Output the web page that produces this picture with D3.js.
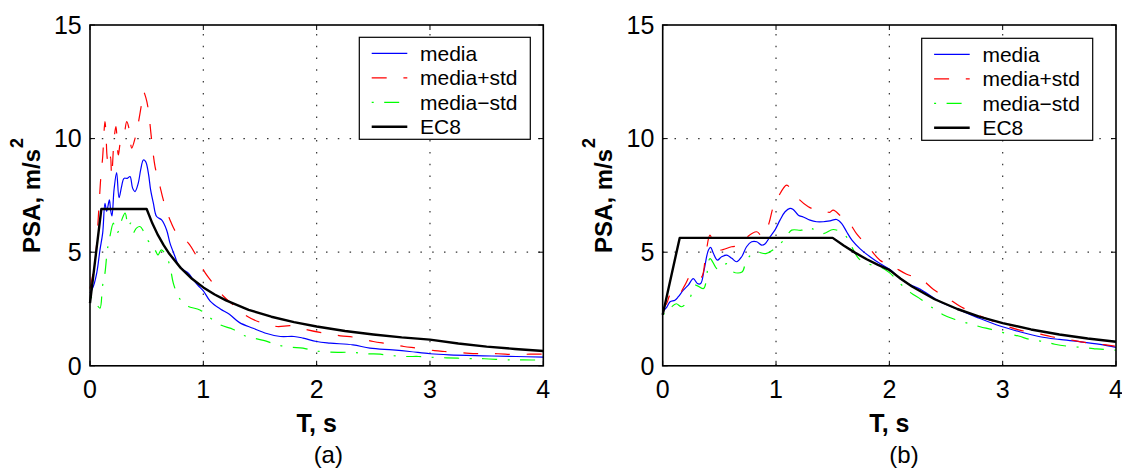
<!DOCTYPE html>
<html><head><meta charset="utf-8">
<script src="https://cdn.jsdelivr.net/npm/d3@7"></script>
<style>html,body{margin:0;padding:0;background:#fff;}svg{display:block;font-family:"Liberation Sans",Arial,Helvetica,sans-serif;}</style>
</head><body>
<svg id="c" width="1122" height="469"></svg>
<script>
// ---- data ----
const xTicks = [0, 1, 2, 3, 4];
const yTicks = [0, 5, 10, 15];
const xLabel = "T, s";
const yLabel = "PSA, m/s";
const yLabelSup = "2";
const panelTags = ["(a)", "(b)"];
const seriesNames = ["media", "media+std", "media\u2212std", "EC8"];

const aMedia = [[0,3.2],[0.03,3.5],[0.06,4.1],[0.088,5.1],[0.112,5.85],[0.132,7.15],[0.147,6.8],[0.171,7.3],[0.182,6.85],[0.194,6.6],[0.212,7.75],[0.235,8.5],[0.256,7.4],[0.279,7.9],[0.3,8.25],[0.329,8.25],[0.353,8.33],[0.376,7.82],[0.397,7.67],[0.426,8.04],[0.447,8.62],[0.471,9.06],[0.491,8.99],[0.515,8.48],[0.535,7.74],[0.559,7.16],[0.588,6.57],[0.632,6.42],[0.676,5.98],[0.706,5.4],[0.75,4.81],[0.779,4.44],[0.824,4.22],[0.868,4.08],[0.912,3.78],[0.96,3.5],[1.0,3.3],[1.06,2.85],[1.15,2.5],[1.23,2.27],[1.32,1.9],[1.44,1.65],[1.56,1.42],[1.68,1.29],[1.8,1.29],[1.88,1.22],[2.0,1.07],[2.12,1.0],[2.32,0.92],[2.47,0.78],[2.67,0.7],[2.82,0.63],[3.0,0.53],[3.17,0.48],[3.47,0.44],[3.76,0.41],[4.0,0.38]];
const aPlus = [[0,3.4],[0.044,4.6],[0.079,7.0],[0.094,8.2],[0.112,9.2],[0.132,10.75],[0.141,10.25],[0.153,9.1],[0.171,8.77],[0.182,9.2],[0.191,8.33],[0.212,9.94],[0.229,10.53],[0.25,9.28],[0.271,9.87],[0.294,10.0],[0.324,10.75],[0.347,10.38],[0.368,9.58],[0.397,10.0],[0.426,10.68],[0.456,11.56],[0.471,12.07],[0.494,11.78],[0.515,11.26],[0.544,9.94],[0.574,8.77],[0.618,7.89],[0.647,7.3],[0.706,6.42],[0.765,5.84],[0.868,5.4],[0.941,4.81],[1.015,4.1],[1.088,3.62],[1.18,3.05],[1.26,2.7],[1.39,2.17],[1.52,1.88],[1.65,1.73],[1.78,1.76],[1.92,1.58],[2.06,1.44],[2.21,1.32],[2.34,1.25],[2.5,1.07],[2.63,0.97],[2.77,0.85],[2.88,0.78],[3.04,0.67],[3.13,0.63],[3.32,0.56],[3.45,0.53],[3.6,0.53],[3.73,0.5],[3.88,0.51],[4.0,0.51]];
const aMinus = [[0,3.0],[0.03,2.98],[0.06,2.7],[0.088,2.54],[0.11,3.49],[0.132,4.08],[0.153,5.1],[0.17,5.54],[0.206,6.28],[0.229,5.84],[0.25,5.91],[0.28,6.42],[0.31,6.72],[0.338,6.13],[0.359,6.28],[0.38,5.84],[0.41,6.06],[0.44,6.13],[0.465,5.99],[0.485,5.69],[0.53,5.4],[0.574,5.1],[0.6,4.88],[0.63,5.1],[0.676,4.81],[0.706,4.37],[0.735,3.64],[0.78,3.05],[0.824,2.76],[0.868,2.61],[0.97,2.46],[1.05,2.15],[1.15,1.8],[1.265,1.6],[1.35,1.35],[1.41,1.26],[1.54,1.11],[1.65,0.92],[1.77,0.82],[1.88,0.78],[1.98,0.66],[2.12,0.6],[2.32,0.59],[2.45,0.53],[2.56,0.51],[2.66,0.45],[2.79,0.41],[2.9,0.41],[3.0,0.38],[3.15,0.35],[3.35,0.32],[3.48,0.31],[3.7,0.26],[3.82,0.26],[4.0,0.25]];
const aEC8 = [[0,2.76],[0.1,6.9],[0.5,6.9],[0.55,6.27],[0.6,5.75],[0.65,5.31],[0.7,4.93],[0.8,4.31],[0.9,3.83],[1.0,3.45],[1.1,3.14],[1.2,2.88],[1.4,2.46],[1.6,2.16],[1.8,1.92],[2.0,1.73],[2.25,1.53],[2.5,1.38],[2.75,1.25],[3.0,1.15],[3.25,0.98],[3.5,0.845],[3.75,0.74],[4.0,0.65]];

const bMedia = [[0,2.4],[0.035,2.57],[0.065,2.82],[0.108,2.89],[0.138,3.04],[0.182,3.33],[0.226,3.55],[0.27,3.84],[0.306,3.62],[0.335,3.62],[0.365,4.21],[0.403,5.09],[0.423,5.21],[0.447,4.95],[0.482,4.65],[0.52,4.8],[0.565,4.87],[0.61,4.73],[0.652,4.58],[0.697,4.8],[0.74,5.24],[0.785,5.46],[0.83,5.46],[0.873,5.31],[0.902,5.36],[0.947,5.68],[0.99,5.97],[1.035,6.41],[1.08,6.78],[1.123,6.93],[1.152,6.88],[1.197,6.63],[1.24,6.55],[1.3,6.41],[1.358,6.34],[1.417,6.34],[1.476,6.38],[1.535,6.44],[1.58,6.26],[1.623,5.9],[1.67,5.53],[1.74,5.16],[1.829,4.8],[1.917,4.5],[2.005,4.24],[2.094,3.85],[2.17,3.6],[2.27,3.38],[2.447,2.82],[2.624,2.45],[2.8,2.08],[2.976,1.75],[3.15,1.5],[3.33,1.28],[3.5,1.16],[3.68,1.06],[3.86,0.94],[4.0,0.81]];
const bPlus = [[0,2.5],[0.035,2.74],[0.065,3.11],[0.088,2.96],[0.14,3.1],[0.196,3.55],[0.255,4.03],[0.3,3.85],[0.344,3.91],[0.38,4.9],[0.417,5.75],[0.46,5.2],[0.506,5.09],[0.608,5.24],[0.68,5.3],[0.747,5.68],[0.83,5.9],[0.88,5.7],[0.932,6.19],[0.976,7.0],[1.02,7.44],[1.094,7.95],[1.14,7.7],[1.197,7.36],[1.285,7.0],[1.36,6.85],[1.432,6.82],[1.47,6.75],[1.505,6.85],[1.57,6.6],[1.64,6.34],[1.71,5.82],[1.814,5.24],[1.917,4.65],[2.035,4.36],[2.153,4.03],[2.285,3.8],[2.39,3.36],[2.52,2.96],[2.62,2.63],[2.77,2.27],[2.83,2.13],[3.03,1.75],[3.15,1.57],[3.3,1.43],[3.43,1.28],[3.58,1.16],[3.71,1.04],[3.86,0.95],[3.99,0.87]];
const bMinus = [[0,2.3],[0.035,2.3],[0.08,2.6],[0.12,2.73],[0.167,2.6],[0.24,2.99],[0.286,3.55],[0.36,3.4],[0.417,4.72],[0.476,4.28],[0.506,4.24],[0.565,4.5],[0.623,4.13],[0.7,4.13],[0.74,4.65],[0.815,5.01],[0.91,4.94],[0.99,5.16],[1.08,5.6],[1.138,5.97],[1.226,5.97],[1.27,6.1],[1.315,6.04],[1.417,5.82],[1.505,6.0],[1.608,5.75],[1.73,4.72],[1.83,4.46],[1.917,4.36],[2.0,4.1],[2.1,3.6],[2.19,3.21],[2.28,2.92],[2.39,2.52],[2.47,2.26],[2.58,2.04],[2.7,1.86],[2.8,1.72],[2.9,1.6],[3.03,1.43],[3.14,1.31],[3.24,1.16],[3.36,1.07],[3.46,0.95],[3.56,0.87],[3.69,0.81],[3.8,0.76],[3.89,0.72],[4.0,0.69]];
const bEC8 = [[0,2.25],[0.15,5.63],[1.5,5.63],[1.6,5.28],[1.7,4.97],[1.8,4.69],[1.9,4.44],[2.0,4.22],[2.1,3.83],[2.2,3.49],[2.4,2.93],[2.6,2.5],[2.8,2.15],[3.0,1.88],[3.25,1.6],[3.5,1.38],[3.75,1.2],[4.0,1.06]];

// ---- layout / styles ----
const styles = [
  {color:"#0000ff", width:1.2, dash:null},
  {color:"#ff0000", width:1.2, dash:"15,16.7"},
  {color:"#00ff00", width:1.2, dash:"2,10.5,15,10.5"},
  {color:"#000000", width:2.4, dash:null}
];
const panels = [
  {x0:90, x1:543.3, y0:25, y1:365.8, legX:359.3, legY:37.3, tagX:328.3, yLabX:40, series:[aMedia,aPlus,aMinus,aEC8], tag:panelTags[0]},
  {x0:662.7, x1:1116, y0:25, y1:365.8, legX:921.7, legY:38.3, tagX:904, yLabX:612, series:[bMedia,bPlus,bMinus,bEC8], tag:panelTags[1]}
];

const svg = d3.select("#c");

panels.forEach(p => {
  const x = d3.scaleLinear().domain([0,4]).range([p.x0,p.x1]);
  const y = d3.scaleLinear().domain([0,15]).range([p.y1,p.y0]);
  const g = svg.append("g");

  // grid
  const grid = g.append("g").attr("stroke","#333").attr("stroke-width",1.2).attr("stroke-dasharray","1.5,10.3").attr("fill","none");
  xTicks.slice(1,-1).forEach(t => grid.append("line").attr("x1",x(t)).attr("x2",x(t)).attr("y1",p.y1).attr("y2",p.y0));
  yTicks.slice(1,-1).forEach(t => grid.append("line").attr("x1",p.x0).attr("x2",p.x1).attr("y1",y(t)).attr("y2",y(t)));

  // ticks (inward, all four sides)
  const tk = g.append("g").attr("stroke","#000").attr("stroke-width",1);
  xTicks.forEach(t => {
    tk.append("line").attr("x1",x(t)).attr("x2",x(t)).attr("y1",p.y1).attr("y2",p.y1-5);
    tk.append("line").attr("x1",x(t)).attr("x2",x(t)).attr("y1",p.y0).attr("y2",p.y0+5);
  });
  yTicks.forEach(t => {
    tk.append("line").attr("x1",p.x0).attr("x2",p.x0+5).attr("y1",y(t)).attr("y2",y(t));
    tk.append("line").attr("x1",p.x1).attr("x2",p.x1-5).attr("y1",y(t)).attr("y2",y(t));
  });

  // curves
  p.series.forEach((data,i) => {
    const st = styles[i];
    const line = d3.line().x(d=>x(d[0])).y(d=>y(d[1]))
      .curve(i===3 ? d3.curveLinear : d3.curveCatmullRom.alpha(0.5));
    g.append("path").datum(data).attr("d",line).attr("fill","none")
      .attr("stroke",st.color).attr("stroke-width",st.width)
      .attr("stroke-dasharray",st.dash).attr("stroke-linejoin","round");
  });

  // box
  g.append("rect").attr("x",p.x0).attr("y",p.y0).attr("width",p.x1-p.x0).attr("height",p.y1-p.y0)
    .attr("fill","none").attr("stroke","#000").attr("stroke-width",1.6);

  // tick labels
  xTicks.forEach(t => g.append("text").attr("x",x(t)).attr("y",398.3).attr("text-anchor","middle")
    .attr("font-size",25).attr("fill","#000").text(t));
  yTicks.forEach(t => g.append("text").attr("x",p.x0-8.3).attr("y",y(t)).attr("dy","0.35em").attr("text-anchor","end")
    .attr("font-size",25).attr("fill","#000").text(t));

  // axis labels
  g.append("text").attr("x",(p.x0+p.x1)/2).attr("y",431.7).attr("text-anchor","middle")
    .attr("font-size",25).attr("font-weight","bold").attr("fill","#000").text(xLabel);
  const yl = g.append("text").attr("transform",`translate(${p.yLabX},${(p.y0+p.y1)/2}) rotate(-90)`)
    .attr("text-anchor","middle").attr("font-size",24).attr("font-weight","bold").attr("fill","#000");
  yl.append("tspan").text(yLabel);
  yl.append("tspan").attr("font-size",18).attr("dy",-17).attr("dx",1).text(yLabelSup);

  g.append("text").attr("x",p.tagX).attr("y",463).attr("text-anchor","middle")
    .attr("font-size",24).attr("fill","#000").text(p.tag);

  // legend
  const lg = g.append("g").attr("transform",`translate(${p.legX},${p.legY})`);
  lg.append("rect").attr("width",171).attr("height",102).attr("fill","#fff").attr("stroke","#000").attr("stroke-width",1.2);
  seriesNames.forEach((n,i) => {
    const cy = 16 + 24.5*i, st = styles[i];
    lg.append("line").attr("x1",12.4).attr("x2",48).attr("y1",cy).attr("y2",cy)
      .attr("stroke",st.color).attr("stroke-width",st.width).attr("stroke-dasharray",st.dash);
    lg.append("text").attr("x",60.7).attr("y",cy+7.4).attr("font-size",21).attr("fill","#000").text(n);
  });
});
</script>
</body></html>
